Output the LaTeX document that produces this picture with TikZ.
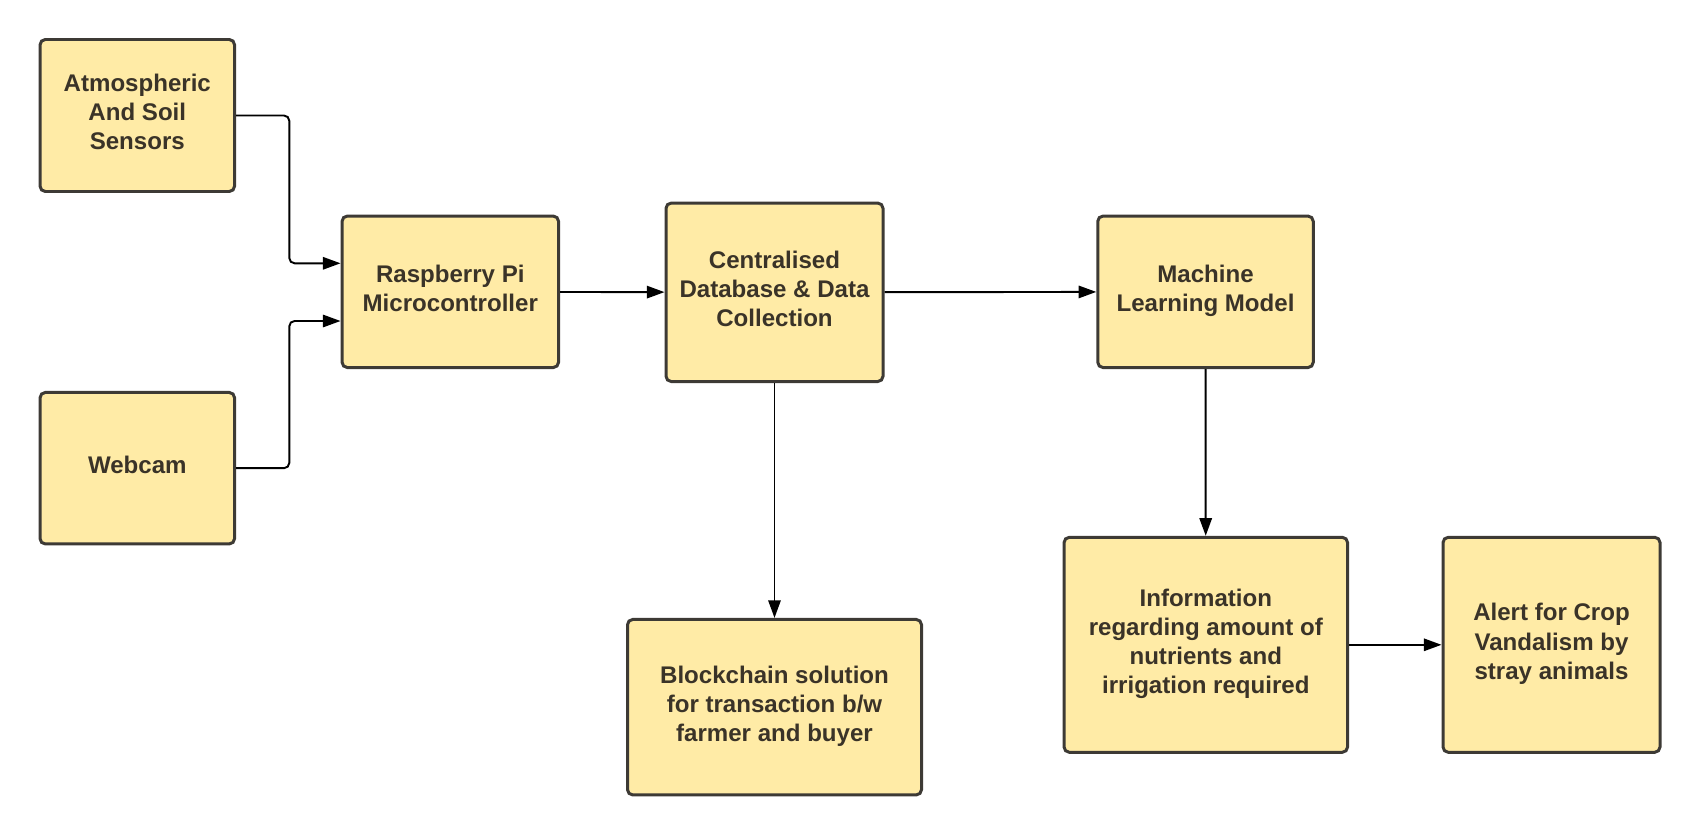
\documentclass[tikz,border=0pt]{standalone}
\usepackage{fontspec}
\setmainfont{Liberation Sans}
\usetikzlibrary{arrows.meta}

\definecolor{boxfill}{HTML}{FFEBA6}
\definecolor{boxline}{HTML}{3D3A35}
\definecolor{boxtext}{HTML}{3A3328}

\tikzset{
  block/.style={draw=boxline, fill=boxfill, line width=1.7pt, rounded corners=3pt,
    align=center, text=boxtext, font=\fontsize{13.7}{16.6}\selectfont\bfseries,
    inner sep=0pt, execute at end node={\rule[-4pt]{0pt}{0pt}}},
  link/.style={line width=1.1pt, rounded corners=3pt,
    -{Triangle[length=10pt,width=7pt]}}
}

\begin{document}
\begin{tikzpicture}
\useasboundingbox (0,0) rectangle (34,16.7);

\node[block, minimum width=3.89cm, minimum height=3.04cm] (atm) at (2.746,14.39) {Atmospheric\\And Soil\\Sensors};
\node[block, minimum width=3.89cm, minimum height=3.03cm] (cam) at (2.746,7.336) {Webcam};

\node[block, minimum width=4.33cm, minimum height=3.03cm] (rpi) at (9.006,10.864) {Raspberry Pi\\Microcontroller};
\node[block, minimum width=4.34cm, minimum height=3.57cm] (db) at (15.49,10.854) {Centralised\\Database \& Data\\Collection};
\node[block, minimum width=4.31cm, minimum height=3.03cm] (ml) at (24.11,10.864) {Machine\\Learning Model};

\node[block, minimum width=5.88cm, minimum height=3.51cm] (chain) at (15.49,2.556) {Blockchain solution\\for transaction b/w\\farmer and buyer};
\node[block, minimum width=5.67cm, minimum height=4.30cm] (info) at (24.116,3.804) {Information\\regarding amount of\\nutrients and\\irrigation required};
\node[block, minimum width=4.34cm, minimum height=4.30cm] (alert) at (31.03,3.804) {Alert for Crop\\Vandalism by\\stray animals};

\draw[link] (atm.east) -- ++(1.065,0) |- ([yshift=0.57cm]rpi.west);
\draw[link] (cam.east) -- ++(1.065,0) |- ([yshift=-0.584cm]rpi.west);

\draw[link] (rpi) -- (db);
\draw[link] (db) -- (ml);
\draw[link] (db) -- (chain);
\draw[link] (ml) -- (info);
\draw[link] (info) -- (alert);

\end{tikzpicture}
\end{document}
